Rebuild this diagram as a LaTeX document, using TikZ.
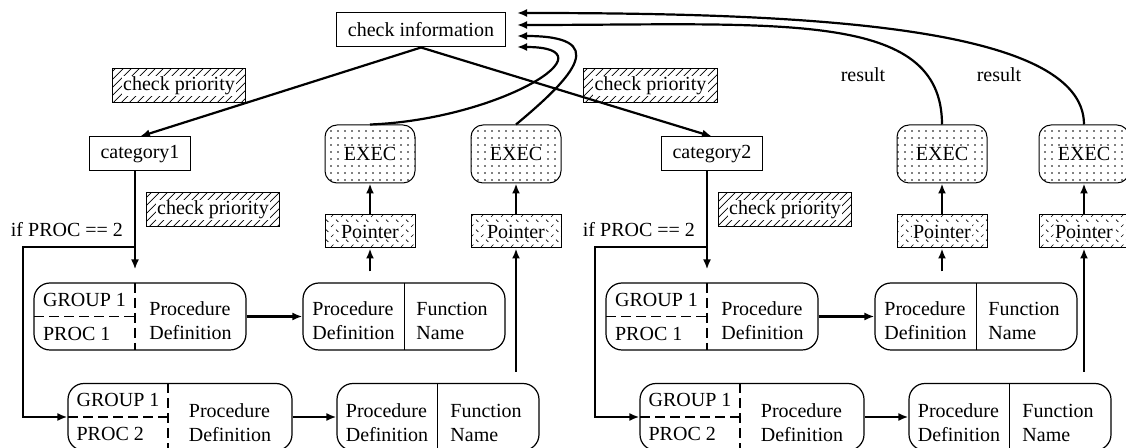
\documentclass[tikz,border=0pt]{standalone}
\usepackage{fontspec}
\setmainfont{Liberation Serif}
\usetikzlibrary{arrows.meta,patterns}

\pgfdeclarepatternformonly{hatch}{\pgfqpoint{-1pt}{-1pt}}{\pgfqpoint{5pt}{5pt}}{\pgfqpoint{4pt}{4pt}}{%
  \pgfsetlinewidth{0.35pt}
  \pgfpathmoveto{\pgfqpoint{0pt}{0pt}}
  \pgfpathlineto{\pgfqpoint{4.1pt}{4.1pt}}
  \pgfusepath{stroke}}
\pgfdeclarepatternformonly{speckle}{\pgfqpoint{-1pt}{-1pt}}{\pgfqpoint{4pt}{4pt}}{\pgfqpoint{3.5pt}{3.5pt}}{%
  \pgfpathcircle{\pgfqpoint{1pt}{1pt}}{0.4pt}
  \pgfusepath{fill}}
\pgfdeclarepatternformonly{ticks}{\pgfqpoint{-1pt}{-1pt}}{\pgfqpoint{6pt}{6pt}}{\pgfqpoint{5pt}{5pt}}{%
  \pgfsetlinewidth{0.3pt}
  \pgfpathmoveto{\pgfqpoint{0.5pt}{0.5pt}}\pgfpathlineto{\pgfqpoint{1.7pt}{1.7pt}}
  \pgfpathmoveto{\pgfqpoint{3pt}{4.2pt}}\pgfpathlineto{\pgfqpoint{4.2pt}{3pt}}
  \pgfusepath{stroke}}

\newcommand{\wbg}[1]{{\setlength{\fboxsep}{0.6pt}\colorbox{white}{#1}}}

\tikzset{
  infobox/.style={draw, line width=0.5pt, minimum height=17pt, inner xsep=5.5pt},
  hatched/.style={draw, line width=0.5pt, pattern=hatch, minimum height=17pt, inner xsep=4.9pt},
  execbox/.style={draw, line width=0.5pt, rounded corners=6pt, pattern=speckle,
    minimum width=45pt, minimum height=29pt},
  ptrbox/.style={draw, line width=0.5pt, pattern=ticks, minimum width=45pt, minimum height=16.5pt},
  roundbox/.style={draw, line width=0.6pt, rounded corners=8pt, minimum height=33.5pt},
  arr/.style={-{Latex[length=5pt,width=4pt]}, line width=1.1pt},
  dashline/.style={line width=0.6pt, dash pattern=on 5pt off 2.5pt},
}

\begin{document}
\begin{tikzpicture}[x=0.5pt,y=-0.5pt]
\useasboundingbox (0,0) rectangle (1126,448);

\node[infobox] (info) at (421,30) {check information};
\coordinate (in1) at (517,13);
\coordinate (in2) at (517,25);
\coordinate (in3) at (517,36);
\coordinate (in4) at (517,47);

\node[hatched] (prioA1) at (179,86) {\wbg{check priority}};
\node[hatched] (prioA2) at (650.5,86) {\wbg{check priority}};

% both halves
\foreach \i/\s/\b in {1/0/516,2/572/512}{
\begin{scope}[xshift={0.5*\s}]
  \node[infobox] (cat\i) at (140,154) {category\i};
  \node[hatched] (prioB\i) at (213,210) {\wbg{check priority}};
  \node[anchor=east] (if\i) at (130,230) {if PROC == 2};
  \coordinate (br\i) at (135,247);
  \coordinate (bend\i) at (23,417);

  \node[execbox] (exA\i) at (370,154) {\wbg{EXEC}};
  \node[execbox] (exB\i) at (\b,154) {\wbg{EXEC}};
  \node[ptrbox] (ptA\i) at (370,231.5) {\wbg{Pointer}};
  \node[ptrbox] (ptB\i) at (\b,231.5) {\wbg{Pointer}};

  % upper row
  \node[roundbox, minimum width=106pt] (grpA\i) at (140,316.5) {};
  \draw[dashline] (135,283) -- (135,350);
  \draw[dashline] (34,316.5) -- (135,316.5);
  \node[align=left] (gA\i) at (84.5,316.5) {GROUP 1\\[5pt]PROC 1};
  \node[align=left] (dA\i) at (190.5,321) {Procedure\\Definition};
  \node[roundbox, minimum width=101pt] (fnA\i) at (404,316.5) {};
  \draw[line width=0.5pt] (404,283) -- (404,350);
  \node[align=left] (fdA\i) at (353.5,321) {Procedure\\Definition};
  \node[align=left] (fnmA\i) at (452,321) {Function\\Name};

  % lower row
  \node[roundbox, minimum width=112pt] (grpB\i) at (180,417) {};
  \draw[dashline] (168,383.5) -- (168,450.5);
  \draw[dashline] (68,417) -- (168,417);
  \node[align=left] (gB\i) at (118,417) {GROUP 1\\[5pt]PROC 2};
  \node[align=left] (dB\i) at (230,422.5) {Procedure\\Definition};
  \node[roundbox, minimum width=101pt] (fnB\i) at (438,417) {};
  \draw[line width=0.5pt] (437,383.5) -- (437,450.5);
  \node[align=left] (fdB\i) at (387,422.5) {Procedure\\Definition};
  \node[align=left] (fnmB\i) at (486,422.5) {Function\\Name};

  \draw[arr, shorten >=6.5pt] (br\i |- cat\i.south) -- (br\i |- grpA\i.north);
  \draw[arr] (br\i) -| (bend\i) -- (grpB\i.west);
  \draw[arr] (grpA\i) -- (fnA\i);
  \draw[arr] (grpB\i) -- (fnB\i);
  \draw[arr, shorten <=5.5pt] (fnA\i.north -| ptA\i) -- (ptA\i);
  \draw[arr, shorten <=5.5pt] (fnB\i.north -| ptB\i) -- (ptB\i);
  \draw[arr] (ptA\i) -- (exA\i);
  \draw[arr] (ptB\i) -- (exB\i);
\end{scope}}

\draw[arr] (info.south) -- (cat1.north);
\draw[arr] (info.south) -- (cat2.north);

\draw[arr] (exA1.north) .. controls +(130,-5) and +(100,0) .. (in4);
\draw[arr] (exB1.north) .. controls +(60,-50) and +(93,0) .. (in3);
\draw[arr] (exA2.north) .. controls +(0,-115) and +(263,0) .. (in2);
\draw[arr] (exB2.north) .. controls +(0,-100) and +(283,0) .. (in1);

\node (res1) at (863,75) {result};
\node (res2) at (999,75) {result};
\end{tikzpicture}
\end{document}
